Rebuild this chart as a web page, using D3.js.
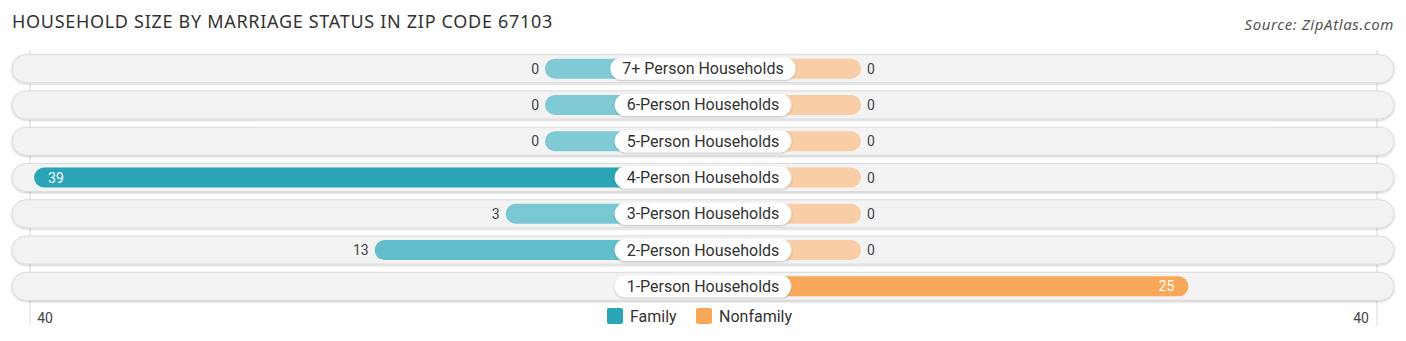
<!DOCTYPE html>
<html>
<head>
<meta charset="utf-8">
<script src="https://cdn.jsdelivr.net/npm/d3@7"></script>
<style>
  body { margin: 0; background: #fff; }
  svg { display: block; font-family: Roboto, "Noto Sans", sans-serif; }
</style>
</head>
<body>
<svg id="chart"></svg>
<script>
var width = 1406, height = 341;

// data (null = no bar shown)
var categories = ["7+ Person Households", "6-Person Households", "5-Person Households",
  "4-Person Households", "3-Person Households", "2-Person Households", "1-Person Households"];
var family = [0, 0, 0, 39, 3, 13, null];
var nonfamily = [0, 0, 0, 0, 0, 0, 25];
var axisMax = 40;
var axisLabels = ["40", "40"];

const svg = d3.select("svg#chart")
  .attr("width", width)
  .attr("height", height);

var cx = 703;

// bar length from center (bars start behind the label pill)
var len = d3.scaleLinear()
  .domain([0, axisMax])
  .range([158, 682]);

var y = d3.scaleBand()
  .domain(categories)
  .range([50.5, 304.5])
  .paddingInner(0.2)
  .paddingOuter(0.1);

var famColor = d3.scaleLinear().domain([0, 39]).range(["#7fcad5", "#2aa5b8"]);
var nonColor = d3.scaleLinear().domain([0, 25]).range(["#f9cda5", "#f9a85a"]);

// title
svg.append("text")
  .attr("x", 12).attr("y", 28)
  .style("font-family", "'Noto Sans', sans-serif")
  .style("font-size", "18px")
  .style("letter-spacing", "0.7px")
  .style("fill", "#333")
  .text("HOUSEHOLD SIZE BY MARRIAGE STATUS IN ZIP CODE 67103");

svg.append("text")
  .attr("x", 1394).attr("y", 30)
  .attr("text-anchor", "end")
  .style("font-family", "'Noto Sans', sans-serif")
  .style("font-size", "15px")
  .style("letter-spacing", "0.6px")
  .style("font-style", "italic")
  .style("fill", "#555")
  .text("Source: ZipAtlas.com");

var defs = svg.append("defs");
var f = defs.append("filter").attr("id", "shadow")
  .attr("x", "-5%").attr("y", "-30%").attr("width", "110%").attr("height", "160%");
f.append("feDropShadow").attr("dx", 0).attr("dy", 1).attr("stdDeviation", 1.2)
  .attr("flood-color", "#000").attr("flood-opacity", 0.22);

// gridlines
var grid = svg.append("g");
[cx - 673, cx + 674].forEach(function(gx) {
  grid.append("line")
    .attr("x1", gx).attr("x2", gx)
    .attr("y1", 50).attr("y2", 326)
    .style("stroke", "#d8d8d8")
    .style("stroke-width", 1);
});

var rows = svg.selectAll(".row").data(categories)
  .enter().append("g")
  .attr("class", "row")
  .attr("transform", d => "translate(0," + (y(d) + y.bandwidth() / 2) + ")");

var rowH = 28;
rows.append("rect")
  .attr("x", 12).attr("y", -rowH / 2)
  .attr("width", 1382).attr("height", rowH)
  .attr("rx", rowH / 2)
  .style("fill", "#f3f3f3")
  .style("stroke", "#dcdcdc")
  .style("stroke-width", 1)
  .attr("filter", "url(#shadow)");

var barH = 20;
// family bars
rows.filter((d, i) => family[i] !== null).append("rect")
  .attr("x", d => cx - len(family[categories.indexOf(d)]))
  .attr("y", -barH / 2)
  .attr("width", d => len(family[categories.indexOf(d)]))
  .attr("height", barH)
  .attr("rx", barH / 2)
  .style("fill", d => famColor(family[categories.indexOf(d)]));

// nonfamily bars
rows.filter((d, i) => nonfamily[i] !== null).append("rect")
  .attr("x", cx)
  .attr("y", -barH / 2)
  .attr("width", d => len(nonfamily[categories.indexOf(d)]))
  .attr("height", barH)
  .attr("rx", barH / 2)
  .style("fill", d => nonColor(nonfamily[categories.indexOf(d)]));

// value labels
rows.filter((d, i) => family[i] !== null).append("text")
  .each(function(d) {
    var v = family[categories.indexOf(d)];
    var inside = v > 20;
    d3.select(this)
      .attr("x", inside ? cx - len(v) + 14 : cx - len(v) - 6)
      .attr("text-anchor", inside ? "start" : "end")
      .style("fill", inside ? "#fff" : "#444")
      .text(v);
  })
  .attr("y", 5)
  .style("font-size", "14px");

rows.filter((d, i) => nonfamily[i] !== null).append("text")
  .each(function(d) {
    var v = nonfamily[categories.indexOf(d)];
    var inside = v > 20;
    d3.select(this)
      .attr("x", inside ? cx + len(v) - 14 : cx + len(v) + 6)
      .attr("text-anchor", inside ? "end" : "start")
      .style("fill", inside ? "#fff" : "#444")
      .text(v);
  })
  .attr("y", 5)
  .style("font-size", "14px");

// category pills
rows.each(function(d) {
  var g = d3.select(this);
  var pill = g.append("rect");
  var t = g.append("text")
    .attr("x", cx).attr("y", 5.5)
    .attr("text-anchor", "middle")
    .style("font-size", "16px")
    .style("fill", "#333")
    .text(d);
  var w = t.node().getComputedTextLength() + 24;
  pill.attr("x", cx - w / 2).attr("y", -11)
    .attr("width", w).attr("height", 22)
    .attr("rx", 11)
    .style("fill", "#fff")
    .attr("filter", "url(#shadow)");
});

// axis labels
svg.append("text")
  .attr("x", 45).attr("y", 323)
  .attr("text-anchor", "middle")
  .style("font-size", "14px").style("fill", "#444")
  .text(axisLabels[0]);
svg.append("text")
  .attr("x", 1361).attr("y", 323)
  .attr("text-anchor", "middle")
  .style("font-size", "14px").style("fill", "#444")
  .text(axisLabels[1]);

// legend
var legend = svg.append("g");
var items = [["Family", "#2aa5b8", 607], ["Nonfamily", "#f9a85a", 696]];
items.forEach(function(it) {
  legend.append("rect")
    .attr("x", it[2]).attr("y", 308)
    .attr("width", 16).attr("height", 16)
    .attr("rx", 2)
    .style("fill", it[1]);
  legend.append("text")
    .attr("x", it[2] + 23).attr("y", 322)
    .style("font-size", "16px").style("fill", "#333")
    .text(it[0]);
});
</script>
</body>
</html>
